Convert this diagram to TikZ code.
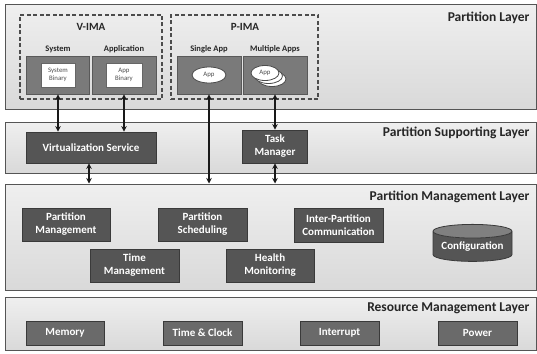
\documentclass[tikz,border=0pt]{standalone}
\usepackage{fontspec}
\setmainfont{Carlito}
\usetikzlibrary{arrows.meta,shapes.geometric}
\definecolor{layerfillA}{HTML}{EFEFEF}
\definecolor{layerfillB}{HTML}{D9D9D9}
\definecolor{layerline}{HTML}{555555}
\definecolor{boxfill}{HTML}{555555}
\definecolor{boxline}{HTML}{3A3A3A}
\definecolor{resfill}{HTML}{6A6A6A}
\definecolor{contfill}{HTML}{7A7A7A}
\tikzset{
  layerbox/.style={draw=layerline, line width=1pt, top color=layerfillA, bottom color=layerfillB, inner sep=0pt},
  layertitle/.style={anchor=east, font=\fontsize{13.5}{14}\selectfont\bfseries, text=black!85},
  dashbox/.style={draw=black!70, dashed, dash pattern=on 4pt off 2.5pt, line width=1.2pt},
  grouptitle/.style={font=\fontsize{11}{12}\selectfont\bfseries, text=black!85},
  subtitle/.style={font=\fontsize{8.5}{9}\selectfont\bfseries, text=black!85},
  contbox/.style={draw=black!65, line width=0.8pt, fill=contfill, inner sep=0pt},
  whitebox/.style={draw=black!60, line width=0.6pt, fill=white, align=center, inner sep=0pt, font=\fontsize{6.8}{8}\selectfont, text=black!70},
  appell/.style={ellipse, draw=black!70, line width=0.8pt, fill=white, inner sep=0pt, font=\fontsize{6.8}{8}\selectfont, text=black!70},
  darkbox/.style={draw=boxline, line width=0.8pt, fill=boxfill, text=white, align=center, inner sep=0pt, font=\fontsize{11}{13}\selectfont\bfseries},
  resbox/.style={draw=boxline, line width=0.8pt, fill=resfill, text=white, align=center, inner sep=0pt, font=\fontsize{11}{13}\selectfont\bfseries},
  link/.style={{Stealth[length=5.5pt,width=5.5pt]}-{Stealth[length=5.5pt,width=5.5pt]}, line width=1.5pt, black!90}
}
\begin{document}
\begin{tikzpicture}[x=1pt,y=-1pt]
\useasboundingbox (0,0) rectangle (537,353);
\fill[white] (0,0) rectangle (537,353);
% layers
\node[layerbox, minimum width=531pt, minimum height=104pt] (L1) at (270.5,57) {};
\node[layerbox, minimum width=531pt, minimum height=51pt] (L2) at (270.5,147.5) {};
\node[layerbox, minimum width=531pt, minimum height=106pt] (L3) at (270.5,237) {};
\node[layerbox, minimum width=531pt, minimum height=53pt] (L4) at (270.5,323.5) {};
\node[layertitle] (t1) at (533,18) {Partition Layer};
\node[layertitle] (t2) at (533,133) {Partition Supporting Layer};
\node[layertitle] (t3) at (533,197) {Partition Management Layer};
\node[layertitle] (t4) at (533,308) {Resource Management Layer};
% V-IMA / P-IMA groups
\node[dashbox, minimum width=142pt, minimum height=84pt] (vima) at (91,57) {};
\node[dashbox, minimum width=147pt, minimum height=84pt] (pima) at (244.5,57) {};
\node[grouptitle] (vimat) at (91,27) {V-IMA};
\node[grouptitle] (pimat) at (245,27) {P-IMA};
\node[subtitle] (syst) at (58,49) {System};
\node[subtitle] (appt) at (124,49) {Application};
\node[subtitle] (singlet) at (209,49) {Single App};
\node[subtitle] (multit) at (275,49) {Multiple Apps};
\node[contbox, minimum width=63pt, minimum height=38pt] (sys) at (58,75) {};
\node[contbox, minimum width=64pt, minimum height=38pt] (app) at (124,75) {};
\node[contbox, minimum width=64pt, minimum height=38pt] (single) at (209,75) {};
\node[contbox, minimum width=64pt, minimum height=38pt] (multi) at (275,75) {};
\node[whitebox, minimum width=34pt, minimum height=24pt] (sysbin) at (58,75) {System\\Binary};
\node[whitebox, minimum width=36pt, minimum height=24pt] (appbin) at (124,75) {App\\Binary};
\node[appell, minimum width=34pt, minimum height=16pt] (app1) at (209,75) {App};
\node[appell, minimum width=28pt, minimum height=15pt] (mapp3) at (272,79) {};
\node[appell, minimum width=28pt, minimum height=15pt] (mapp2) at (268.5,76) {};
\node[appell, minimum width=28pt, minimum height=15pt] (mapp1) at (265,73) {App};
% supporting layer
\node[darkbox, minimum width=130pt, minimum height=31pt] (vs) at (91,147.5) {Virtualization Service};
\node[darkbox, minimum width=65pt, minimum height=33pt] (tm) at (275,146.5) {Task\\Manager};
% management layer
\node[darkbox, minimum width=88pt, minimum height=33pt] (pm) at (66,224.5) {Partition\\Management};
\node[darkbox, minimum width=89pt, minimum height=33pt] (ps) at (202.5,224.5) {Partition\\Scheduling};
\node[darkbox, minimum width=89pt, minimum height=34pt] (ipc) at (338.5,225) {Inter-Partition\\Communication};
\node[darkbox, minimum width=89pt, minimum height=33pt] (tim) at (134.5,265.5) {Time\\Management};
\node[darkbox, minimum width=88pt, minimum height=33pt] (hm) at (270,265.5) {Health\\Monitoring};
\node[cylinder, shape border rotate=90, aspect=0.22, draw=boxline, line width=0.8pt,
      cylinder uses custom fill, cylinder body fill=boxfill, cylinder end fill=black!50,
      minimum width=79pt, minimum height=37pt, inner sep=0pt, text=white,
      font=\fontsize{11}{13}\selectfont\bfseries] (cfg) at (472.5,246.5) {Configuration};
% resource layer
\node[resbox, minimum width=78pt, minimum height=24pt] (mem) at (65,333) {Memory};
\node[resbox, minimum width=79pt, minimum height=24pt] (clk) at (202.5,333) {Time \& Clock};
\node[resbox, minimum width=79pt, minimum height=24pt] (irq) at (339.5,333) {Interrupt};
\node[resbox, minimum width=79pt, minimum height=24pt] (pwr) at (477.5,333) {Power};
% connectors
\draw[link] (sys.south) -- (sys.south |- vs.north);
\draw[link] (app.south) -- (app.south |- vs.north);
\draw[link] (single.south) -- (single.south |- L3.north);
\draw[link] (multi.south) -- (multi.south |- tm.north);
\coordinate (vsb) at ([xshift=-2pt]vs.south);
\draw[link] (vsb) -- (vsb |- L3.north);
\draw[link] (tm.south) -- (tm.south |- L3.north);
\end{tikzpicture}
\end{document}
